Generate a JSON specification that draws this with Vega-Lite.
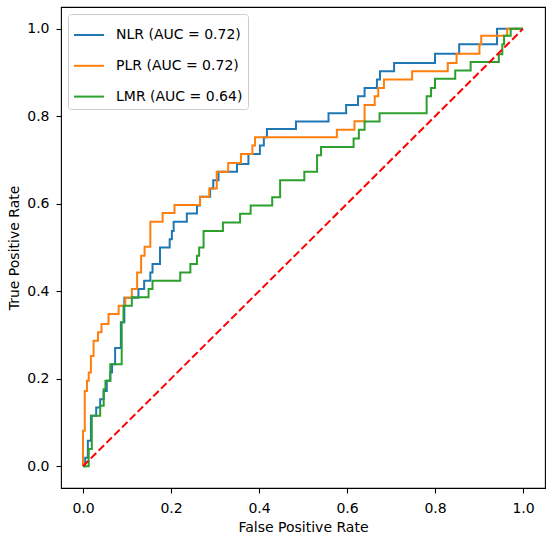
{
  "$schema": "https://vega.github.io/schema/vega-lite/v6.json",
  "width": 484,
  "height": 481,
  "autosize": {"type": "none"},
  "padding": {"left": 61, "top": 7, "right": 5, "bottom": 46},
  "datasets": {
    "roc": [
      {"model": "NLR (AUC = 0.72)", "step": 0, "fpr": 0, "tpr": 0},
      {"model": "NLR (AUC = 0.72)", "step": 1, "fpr": 0.005, "tpr": 0.019},
      {"model": "NLR (AUC = 0.72)", "step": 2, "fpr": 0.011, "tpr": 0.058},
      {"model": "NLR (AUC = 0.72)", "step": 3, "fpr": 0.018, "tpr": 0.115},
      {"model": "NLR (AUC = 0.72)", "step": 4, "fpr": 0.030, "tpr": 0.134},
      {"model": "NLR (AUC = 0.72)", "step": 5, "fpr": 0.039, "tpr": 0.153},
      {"model": "NLR (AUC = 0.72)", "step": 6, "fpr": 0.047, "tpr": 0.172},
      {"model": "NLR (AUC = 0.72)", "step": 7, "fpr": 0.054, "tpr": 0.195},
      {"model": "NLR (AUC = 0.72)", "step": 8, "fpr": 0.062, "tpr": 0.214},
      {"model": "NLR (AUC = 0.72)", "step": 9, "fpr": 0.066, "tpr": 0.233},
      {"model": "NLR (AUC = 0.72)", "step": 10, "fpr": 0.073, "tpr": 0.270},
      {"model": "NLR (AUC = 0.72)", "step": 11, "fpr": 0.086, "tpr": 0.329},
      {"model": "NLR (AUC = 0.72)", "step": 12, "fpr": 0.094, "tpr": 0.385},
      {"model": "NLR (AUC = 0.72)", "step": 13, "fpr": 0.126, "tpr": 0.405},
      {"model": "NLR (AUC = 0.72)", "step": 14, "fpr": 0.139, "tpr": 0.424},
      {"model": "NLR (AUC = 0.72)", "step": 15, "fpr": 0.153, "tpr": 0.443},
      {"model": "NLR (AUC = 0.72)", "step": 16, "fpr": 0.158, "tpr": 0.462},
      {"model": "NLR (AUC = 0.72)", "step": 17, "fpr": 0.175, "tpr": 0.500},
      {"model": "NLR (AUC = 0.72)", "step": 18, "fpr": 0.197, "tpr": 0.519},
      {"model": "NLR (AUC = 0.72)", "step": 19, "fpr": 0.202, "tpr": 0.538},
      {"model": "NLR (AUC = 0.72)", "step": 20, "fpr": 0.206, "tpr": 0.559},
      {"model": "NLR (AUC = 0.72)", "step": 21, "fpr": 0.236, "tpr": 0.578},
      {"model": "NLR (AUC = 0.72)", "step": 22, "fpr": 0.259, "tpr": 0.596},
      {"model": "NLR (AUC = 0.72)", "step": 23, "fpr": 0.266, "tpr": 0.616},
      {"model": "NLR (AUC = 0.72)", "step": 24, "fpr": 0.289, "tpr": 0.635},
      {"model": "NLR (AUC = 0.72)", "step": 25, "fpr": 0.296, "tpr": 0.654},
      {"model": "NLR (AUC = 0.72)", "step": 26, "fpr": 0.308, "tpr": 0.673},
      {"model": "NLR (AUC = 0.72)", "step": 27, "fpr": 0.350, "tpr": 0.691},
      {"model": "NLR (AUC = 0.72)", "step": 28, "fpr": 0.376, "tpr": 0.714},
      {"model": "NLR (AUC = 0.72)", "step": 29, "fpr": 0.402, "tpr": 0.733},
      {"model": "NLR (AUC = 0.72)", "step": 30, "fpr": 0.411, "tpr": 0.752},
      {"model": "NLR (AUC = 0.72)", "step": 31, "fpr": 0.418, "tpr": 0.771},
      {"model": "NLR (AUC = 0.72)", "step": 32, "fpr": 0.484, "tpr": 0.788},
      {"model": "NLR (AUC = 0.72)", "step": 33, "fpr": 0.558, "tpr": 0.807},
      {"model": "NLR (AUC = 0.72)", "step": 34, "fpr": 0.598, "tpr": 0.826},
      {"model": "NLR (AUC = 0.72)", "step": 35, "fpr": 0.625, "tpr": 0.846},
      {"model": "NLR (AUC = 0.72)", "step": 36, "fpr": 0.640, "tpr": 0.865},
      {"model": "NLR (AUC = 0.72)", "step": 37, "fpr": 0.668, "tpr": 0.884},
      {"model": "NLR (AUC = 0.72)", "step": 38, "fpr": 0.675, "tpr": 0.903},
      {"model": "NLR (AUC = 0.72)", "step": 39, "fpr": 0.707, "tpr": 0.922},
      {"model": "NLR (AUC = 0.72)", "step": 40, "fpr": 0.800, "tpr": 0.943},
      {"model": "NLR (AUC = 0.72)", "step": 41, "fpr": 0.855, "tpr": 0.965},
      {"model": "NLR (AUC = 0.72)", "step": 42, "fpr": 0.941, "tpr": 1.0},
      {"model": "NLR (AUC = 0.72)", "step": 43, "fpr": 1.0, "tpr": 1.0},
      {"model": "PLR (AUC = 0.72)", "step": 0, "fpr": 0, "tpr": 0},
      {"model": "PLR (AUC = 0.72)", "step": 1, "fpr": 0, "tpr": 0.081},
      {"model": "PLR (AUC = 0.72)", "step": 2, "fpr": 0.004, "tpr": 0.172},
      {"model": "PLR (AUC = 0.72)", "step": 3, "fpr": 0.009, "tpr": 0.195},
      {"model": "PLR (AUC = 0.72)", "step": 4, "fpr": 0.013, "tpr": 0.214},
      {"model": "PLR (AUC = 0.72)", "step": 5, "fpr": 0.018, "tpr": 0.252},
      {"model": "PLR (AUC = 0.72)", "step": 6, "fpr": 0.024, "tpr": 0.287},
      {"model": "PLR (AUC = 0.72)", "step": 7, "fpr": 0.034, "tpr": 0.306},
      {"model": "PLR (AUC = 0.72)", "step": 8, "fpr": 0.042, "tpr": 0.325},
      {"model": "PLR (AUC = 0.72)", "step": 9, "fpr": 0.058, "tpr": 0.348},
      {"model": "PLR (AUC = 0.72)", "step": 10, "fpr": 0.081, "tpr": 0.367},
      {"model": "PLR (AUC = 0.72)", "step": 11, "fpr": 0.096, "tpr": 0.385},
      {"model": "PLR (AUC = 0.72)", "step": 12, "fpr": 0.111, "tpr": 0.405},
      {"model": "PLR (AUC = 0.72)", "step": 13, "fpr": 0.123, "tpr": 0.443},
      {"model": "PLR (AUC = 0.72)", "step": 14, "fpr": 0.132, "tpr": 0.481},
      {"model": "PLR (AUC = 0.72)", "step": 15, "fpr": 0.140, "tpr": 0.502},
      {"model": "PLR (AUC = 0.72)", "step": 16, "fpr": 0.153, "tpr": 0.559},
      {"model": "PLR (AUC = 0.72)", "step": 17, "fpr": 0.181, "tpr": 0.579},
      {"model": "PLR (AUC = 0.72)", "step": 18, "fpr": 0.208, "tpr": 0.597},
      {"model": "PLR (AUC = 0.72)", "step": 19, "fpr": 0.266, "tpr": 0.616},
      {"model": "PLR (AUC = 0.72)", "step": 20, "fpr": 0.287, "tpr": 0.635},
      {"model": "PLR (AUC = 0.72)", "step": 21, "fpr": 0.304, "tpr": 0.673},
      {"model": "PLR (AUC = 0.72)", "step": 22, "fpr": 0.330, "tpr": 0.693},
      {"model": "PLR (AUC = 0.72)", "step": 23, "fpr": 0.359, "tpr": 0.714},
      {"model": "PLR (AUC = 0.72)", "step": 24, "fpr": 0.385, "tpr": 0.733},
      {"model": "PLR (AUC = 0.72)", "step": 25, "fpr": 0.391, "tpr": 0.752},
      {"model": "PLR (AUC = 0.72)", "step": 26, "fpr": 0.577, "tpr": 0.769},
      {"model": "PLR (AUC = 0.72)", "step": 27, "fpr": 0.617, "tpr": 0.789},
      {"model": "PLR (AUC = 0.72)", "step": 28, "fpr": 0.640, "tpr": 0.826},
      {"model": "PLR (AUC = 0.72)", "step": 29, "fpr": 0.663, "tpr": 0.846},
      {"model": "PLR (AUC = 0.72)", "step": 30, "fpr": 0.671, "tpr": 0.865},
      {"model": "PLR (AUC = 0.72)", "step": 31, "fpr": 0.684, "tpr": 0.884},
      {"model": "PLR (AUC = 0.72)", "step": 32, "fpr": 0.748, "tpr": 0.903},
      {"model": "PLR (AUC = 0.72)", "step": 33, "fpr": 0.829, "tpr": 0.922},
      {"model": "PLR (AUC = 0.72)", "step": 34, "fpr": 0.849, "tpr": 0.943},
      {"model": "PLR (AUC = 0.72)", "step": 35, "fpr": 0.901, "tpr": 0.965},
      {"model": "PLR (AUC = 0.72)", "step": 36, "fpr": 0.905, "tpr": 0.984},
      {"model": "PLR (AUC = 0.72)", "step": 37, "fpr": 0.964, "tpr": 1.0},
      {"model": "PLR (AUC = 0.72)", "step": 38, "fpr": 1.0, "tpr": 1.0},
      {"model": "LMR (AUC = 0.64)", "step": 0, "fpr": 0, "tpr": 0},
      {"model": "LMR (AUC = 0.64)", "step": 1, "fpr": 0.013, "tpr": 0.039},
      {"model": "LMR (AUC = 0.64)", "step": 2, "fpr": 0.020, "tpr": 0.115},
      {"model": "LMR (AUC = 0.64)", "step": 3, "fpr": 0.039, "tpr": 0.138},
      {"model": "LMR (AUC = 0.64)", "step": 4, "fpr": 0.047, "tpr": 0.176},
      {"model": "LMR (AUC = 0.64)", "step": 5, "fpr": 0.051, "tpr": 0.195},
      {"model": "LMR (AUC = 0.64)", "step": 6, "fpr": 0.062, "tpr": 0.233},
      {"model": "LMR (AUC = 0.64)", "step": 7, "fpr": 0.088, "tpr": 0.329},
      {"model": "LMR (AUC = 0.64)", "step": 8, "fpr": 0.092, "tpr": 0.367},
      {"model": "LMR (AUC = 0.64)", "step": 9, "fpr": 0.111, "tpr": 0.386},
      {"model": "LMR (AUC = 0.64)", "step": 10, "fpr": 0.149, "tpr": 0.405},
      {"model": "LMR (AUC = 0.64)", "step": 11, "fpr": 0.158, "tpr": 0.424},
      {"model": "LMR (AUC = 0.64)", "step": 12, "fpr": 0.221, "tpr": 0.443},
      {"model": "LMR (AUC = 0.64)", "step": 13, "fpr": 0.244, "tpr": 0.462},
      {"model": "LMR (AUC = 0.64)", "step": 14, "fpr": 0.259, "tpr": 0.481},
      {"model": "LMR (AUC = 0.64)", "step": 15, "fpr": 0.264, "tpr": 0.500},
      {"model": "LMR (AUC = 0.64)", "step": 16, "fpr": 0.274, "tpr": 0.538},
      {"model": "LMR (AUC = 0.64)", "step": 17, "fpr": 0.318, "tpr": 0.557},
      {"model": "LMR (AUC = 0.64)", "step": 18, "fpr": 0.357, "tpr": 0.577},
      {"model": "LMR (AUC = 0.64)", "step": 19, "fpr": 0.381, "tpr": 0.596},
      {"model": "LMR (AUC = 0.64)", "step": 20, "fpr": 0.430, "tpr": 0.615},
      {"model": "LMR (AUC = 0.64)", "step": 21, "fpr": 0.448, "tpr": 0.654},
      {"model": "LMR (AUC = 0.64)", "step": 22, "fpr": 0.503, "tpr": 0.673},
      {"model": "LMR (AUC = 0.64)", "step": 23, "fpr": 0.532, "tpr": 0.711},
      {"model": "LMR (AUC = 0.64)", "step": 24, "fpr": 0.541, "tpr": 0.730},
      {"model": "LMR (AUC = 0.64)", "step": 25, "fpr": 0.615, "tpr": 0.749},
      {"model": "LMR (AUC = 0.64)", "step": 26, "fpr": 0.627, "tpr": 0.769},
      {"model": "LMR (AUC = 0.64)", "step": 27, "fpr": 0.640, "tpr": 0.788},
      {"model": "LMR (AUC = 0.64)", "step": 28, "fpr": 0.674, "tpr": 0.807},
      {"model": "LMR (AUC = 0.64)", "step": 29, "fpr": 0.781, "tpr": 0.846},
      {"model": "LMR (AUC = 0.64)", "step": 30, "fpr": 0.791, "tpr": 0.865},
      {"model": "LMR (AUC = 0.64)", "step": 31, "fpr": 0.800, "tpr": 0.886},
      {"model": "LMR (AUC = 0.64)", "step": 32, "fpr": 0.846, "tpr": 0.905},
      {"model": "LMR (AUC = 0.64)", "step": 33, "fpr": 0.881, "tpr": 0.924},
      {"model": "LMR (AUC = 0.64)", "step": 34, "fpr": 0.945, "tpr": 0.942},
      {"model": "LMR (AUC = 0.64)", "step": 35, "fpr": 0.953, "tpr": 0.965},
      {"model": "LMR (AUC = 0.64)", "step": 36, "fpr": 0.957, "tpr": 0.984},
      {"model": "LMR (AUC = 0.64)", "step": 37, "fpr": 0.972, "tpr": 1.0},
      {"model": "LMR (AUC = 0.64)", "step": 38, "fpr": 1.0, "tpr": 1.0}
    ],
    "chance": [
      {"fpr": 0, "tpr": 0},
      {"fpr": 1, "tpr": 1}
    ]
  },
  "layer": [
    {
      "data": {"name": "roc"},
      "mark": {"type": "line", "interpolate": "step-after", "strokeWidth": 2},
      "encoding": {
        "x": {
          "field": "fpr",
          "type": "quantitative",
          "scale": {"domain": [-0.05, 1.05], "nice": false, "zero": false},
          "axis": {"values": [0, 0.2, 0.4, 0.6, 0.8, 1.0], "format": ".1f", "title": "False Positive Rate", "labelPadding": 8, "titlePadding": 5}
        },
        "y": {
          "field": "tpr",
          "type": "quantitative",
          "scale": {"domain": [-0.05, 1.05], "nice": false, "zero": false},
          "axis": {"values": [0, 0.2, 0.4, 0.6, 0.8, 1.0], "format": ".1f", "title": "True Positive Rate", "labelPadding": 7, "titlePadding": 5}
        },
        "color": {
          "field": "model",
          "type": "nominal",
          "scale": {
            "domain": ["NLR (AUC = 0.72)", "PLR (AUC = 0.72)", "LMR (AUC = 0.64)"],
            "range": ["#1f77b4", "#ff7f0e", "#2ca02c"]
          },
          "legend": {
            "orient": "none",
            "legendX": 7,
            "legendY": 7,
            "title": null,
            "symbolType": "stroke",
            "symbolSize": 900,
            "symbolStrokeWidth": 2,
            "labelOffset": 11,
            "rowPadding": 7.8,
            "padding": 5,
            "strokeColor": "#cccccc",
            "fillColor": "rgba(255,255,255,0.8)",
            "cornerRadius": 3
          }
        },
        "order": {"field": "step", "type": "quantitative"}
      }
    },
    {
      "data": {"name": "chance"},
      "mark": {"type": "line", "color": "#ff0000", "strokeWidth": 2, "strokeDash": [7.7, 3.3]},
      "encoding": {
        "x": {"field": "fpr", "type": "quantitative"},
        "y": {"field": "tpr", "type": "quantitative"}
      }
    }
  ],
  "config": {
    "font": "DejaVu Sans",
    "view": {"stroke": "#000000", "strokeWidth": 1.1},
    "axis": {
      "domain": false,
      "grid": false,
      "tickSize": 5,
      "tickColor": "#000000",
      "tickWidth": 1.1,
      "labelFontSize": 14,
      "labelColor": "#000000",
      "titleFontSize": 14,
      "titleFontWeight": "normal",
      "titleColor": "#000000"
    },
    "legend": {
      "labelFontSize": 14,
      "labelColor": "#000000",
      "labelLimit": 300
    }
  }
}
